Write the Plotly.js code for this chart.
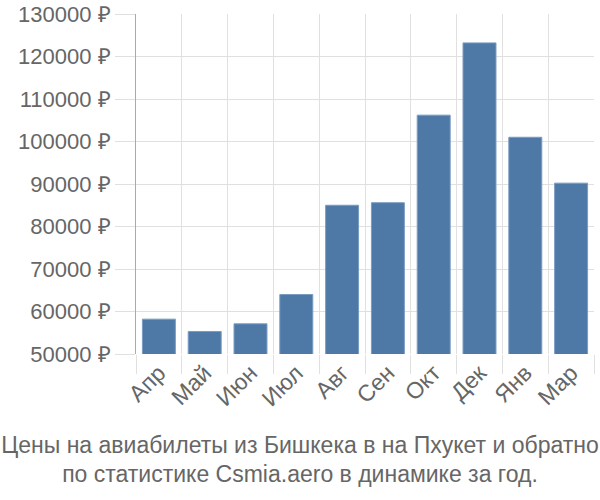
<!DOCTYPE html>
<html><head><meta charset="utf-8">
<script src="https://cdn.plot.ly/plotly-3.0.1.min.js"></script>
<style>body{margin:0;padding:0;background:#fff}#chart{width:600px;height:500px}</style>
</head><body><div id="chart"></div>
<script>
const months = ["Апр","Май","Июн","Июл","Авг","Сен","Окт","Дек","Янв","Мар"];
const prices = [58200, 55300, 57100, 64000, 85000, 85600, 106200, 123200, 101000, 90200];
const titleLines = ["Цены на авиабилеты из Бишкека в на Пхукет и обратно", "по статистике Csmia.aero в динамике за год."];

const font = {family: "Liberation Sans, Arial, sans-serif", size: 22, color: "#666"};
Plotly.newPlot("chart", [{
  type: "bar", x: months, y: prices,
  marker: {color: "#4e79a7", line: {color: "#7a9cc2", width: 1}},
  hoverinfo: "none"
}], {
  width: 600, height: 500,
  margin: {l: 136, r: 6, t: 14, b: 146},
  paper_bgcolor: "#fff", plot_bgcolor: "#fff",
  bargap: 0.28,
  font: font,
  showlegend: false,
  title: {text: titleLines.join("<br>"), x: 0.5, xanchor: "center", y: 0.095, yref: "container", yanchor: "middle",
          font: {family: font.family, size: 23, color: "#666"}},
  xaxis: {
    type: "category", tickson: "boundaries", showgrid: true, gridcolor: "#e0e0e0", gridwidth: 1,
    ticks: "outside", ticklen: 19, tickcolor: "#e0e0e0", tickwidth: 1,
    tickangle: -45, tickfont: {family: font.family, size: 23, color: "#666"},
    showline: false, zeroline: false, mirror: false
  },
  yaxis: {
    range: [50000, 130000], dtick: 10000, tick0: 50000, tickformat: "d", ticksuffix: " ₽",
    showgrid: true, gridcolor: "#e0e0e0", gridwidth: 1,
    ticks: "outside", ticklen: 20, tickcolor: "#e0e0e0", tickwidth: 1,
    showline: true, linecolor: "#aaa", linewidth: 1, zeroline: false,
    tickfont: font
  }
}, {displayModeBar: false, staticPlot: true});
</script></body></html>
